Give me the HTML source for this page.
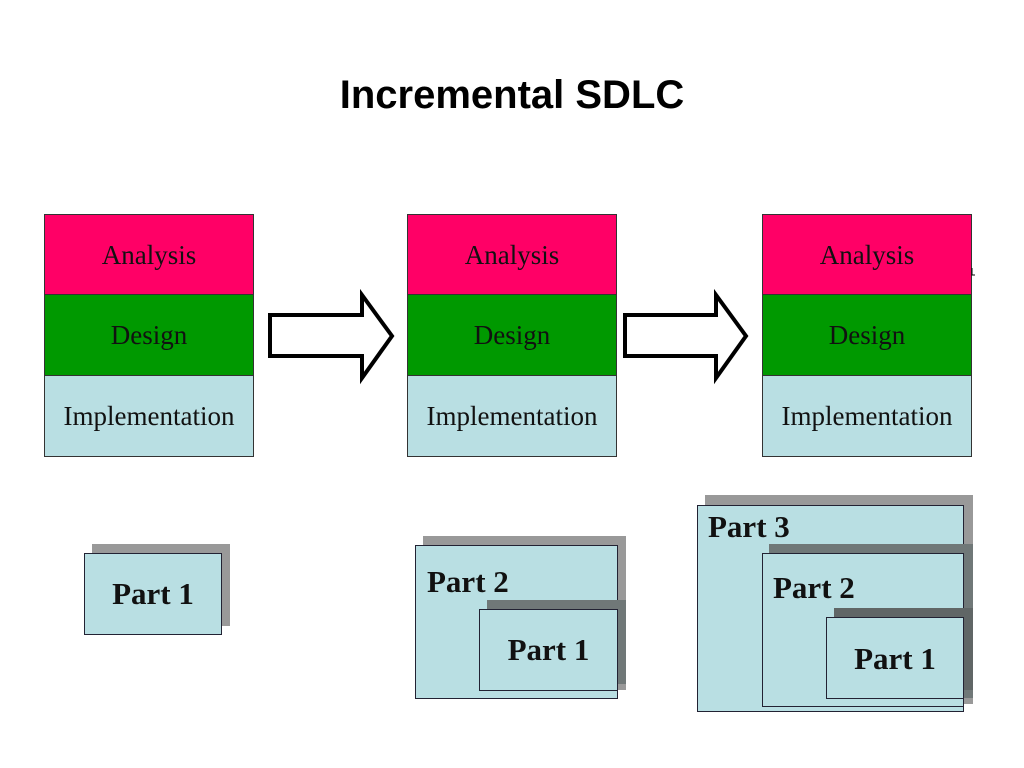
<!DOCTYPE html>
<html><head><style>
body{margin:0;width:1024px;height:768px;background:#fff;position:relative;overflow:hidden;font-family:"Liberation Serif",serif}
.t{position:absolute;left:0;width:1024px;top:73px;text-align:center;font:bold 40px "Liberation Sans",sans-serif}
.s{position:absolute;width:210px;height:243px;border:1px solid #333;box-sizing:border-box;background:#b9dfe3}
.s div{height:80.3px;line-height:80px;text-align:center;font-size:27px;color:#111;box-sizing:border-box}
.a{background:#ff0066;border-bottom:1px solid #333}.d{background:#009900;border-bottom:1px solid #333}.i{background:#b9dfe3}
.b{position:absolute;background:#b9dfe3;border:1px solid #223;box-sizing:border-box;font-weight:bold;font-size:31px;color:#111}
.sh{position:absolute;background:#999}
.sh2{position:absolute;background:#707878}
</style></head><body>
<div class="t">Incremental SDLC</div>
<div class="s" style="left:44px;top:214px"><div class="a">Analysis</div><div class="d">Design</div><div class="i">Implementation</div></div>
<div class="s" style="left:407px;top:214px"><div class="a">Analysis</div><div class="d">Design</div><div class="i">Implementation</div></div>
<div class="s" style="left:762px;top:214px"><div class="a">Analysis</div><div class="d">Design</div><div class="i">Implementation</div></div>
<svg style="position:absolute;left:0;top:0" width="1024" height="768">
<polygon points="270,315 362,315 362,295 392,336 362,378 362,356 270,356" fill="#fff" stroke="#000" stroke-width="4"/>
<polygon points="625,315 716,315 716,295 746,336 716,378 716,356 625,356" fill="#fff" stroke="#000" stroke-width="4"/>
<path d="M972 268 V275 H975" stroke="#000" fill="none" stroke-width="1"/>
</svg>
<div class="sh" style="left:92px;top:544px;width:138px;height:82px"></div>
<div class="b" style="left:84px;top:553px;width:138px;height:82px;text-align:center;line-height:80px">Part 1</div>

<div class="sh" style="left:423px;top:536px;width:203px;height:154px"></div>
<div class="b" style="left:415px;top:545px;width:203px;height:154px;padding:18px 0 0 11px">Part 2</div>
<div class="sh2" style="left:487px;top:600px;width:139px;height:84px"></div>
<div class="b" style="left:479px;top:609px;width:139px;height:82px;text-align:center;line-height:80px">Part 1</div>

<div class="sh" style="left:705px;top:495px;width:268px;height:209px"></div>
<div class="b" style="left:697px;top:505px;width:267px;height:207px;padding:3px 0 0 10px">Part 3</div>
<div class="sh2" style="left:769px;top:544px;width:204px;height:154px"></div>
<div class="b" style="left:762px;top:553px;width:202px;height:154px;padding:16px 0 0 10px">Part 2</div>
<div class="sh2" style="left:834px;top:608px;width:139px;height:82px;background:#606666"></div>
<div class="b" style="left:826px;top:617px;width:138px;height:82px;text-align:center;line-height:82px">Part 1</div>
</body></html>
